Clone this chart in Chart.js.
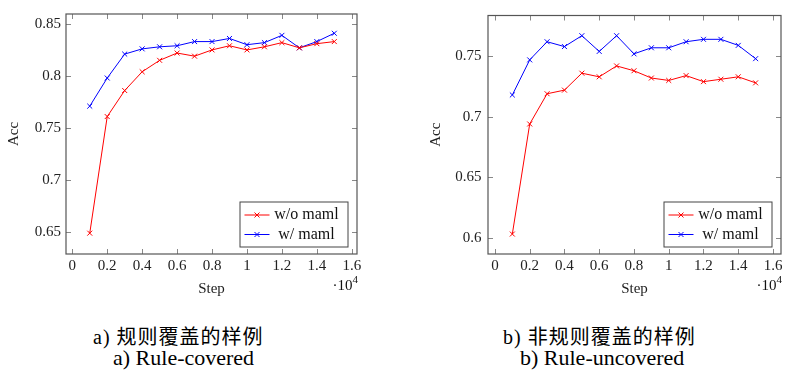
<!DOCTYPE html>
<html>
<head>
<meta charset="utf-8">
<script src="https://cdn.jsdelivr.net/npm/chart.js@4"></script>
<style>
  body { margin:0; background:#fff; width:807px; height:378px; position:relative; overflow:hidden; }
  canvas { position:absolute; top:0; }
  #leftChart { left:0; }
  #rightChart { left:400px; }
  .cap { position:absolute; white-space:nowrap; color:#000; font-family:"Liberation Serif","DejaVu Serif","Noto Sans CJK SC",serif; line-height:1; }
  .zh { font-size:20px; letter-spacing:1px; }
  .en { font-size:22px; }
</style>
</head>
<body>
<canvas id="leftChart" width="400" height="300"></canvas>
<canvas id="rightChart" width="407" height="300"></canvas>

<div class="cap zh" style="left:93px; top:327px;">a) 规则覆盖的样例</div>
<div class="cap en" style="left:113px; top:347px;">a) Rule-covered</div>
<div class="cap zh" style="left:503px; top:327px;">b) 非规则覆盖的样例</div>
<div class="cap en" style="left:520px; top:347px;">b) Rule-uncovered</div>

<script>
// data
const steps = [1000,2000,3000,4000,5000,6000,7000,8000,9000,10000,11000,12000,13000,14000,15000];
const coveredNoMaml = [0.649,0.761,0.786,0.804,0.815,0.822,0.819,0.825,0.829,0.825,0.828,0.832,0.827,0.831,0.833];
const coveredMaml   = [0.771,0.798,0.821,0.826,0.828,0.829,0.833,0.833,0.836,0.830,0.832,0.839,0.827,0.833,0.841];
const uncoveredNoMaml = [0.603,0.694,0.719,0.722,0.736,0.733,0.742,0.738,0.732,0.730,0.734,0.729,0.731,0.733,0.728];
const uncoveredMaml   = [0.718,0.747,0.762,0.758,0.767,0.754,0.767,0.752,0.757,0.757,0.762,0.764,0.764,0.759,0.748];
const xTicks = [0,2000,4000,6000,8000,10000,12000,14000,16000];
const yTicksCovered = [0.65,0.7,0.75,0.8,0.85];
const yTicksUncovered = [0.6,0.65,0.7,0.75];
const seriesNames = ["w/o maml","w/ maml"];
const RED = "rgb(255,0,0)";
const BLUE = "rgb(0,0,255)";
const FONT = "'Liberation Serif', 'DejaVu Serif', serif";

// frame, inward ticks, legend box and the ·10^4 note (pgfplots look)
const pgfLook = {
  id: "pgfLook",
  afterDraw(chart) {
    const c = chart.ctx, a = chart.chartArea;
    const xs = chart.scales.x, ys = chart.scales.y;
    c.save();
    c.strokeStyle = "#888";
    c.lineWidth = 1;
    c.beginPath();
    xs.ticks.forEach(t => {
      const px = Math.round(xs.getPixelForValue(t.value)) + 0.5;
      c.moveTo(px, a.bottom); c.lineTo(px, a.bottom - 5);
      c.moveTo(px, a.top); c.lineTo(px, a.top + 5);
    });
    ys.ticks.forEach(t => {
      const py = Math.round(ys.getPixelForValue(t.value)) + 0.5;
      c.moveTo(a.left, py); c.lineTo(a.left + 5, py);
      c.moveTo(a.right, py); c.lineTo(a.right - 5, py);
    });
    c.stroke();
    c.strokeStyle = "#555";
    c.lineWidth = 1.2;
    c.strokeRect(a.left, a.top, a.right - a.left, a.bottom - a.top);

    // legend
    const bw = 108, bh = 45;
    const bx = a.right - 9.5 - bw, by = a.bottom - 7.5 - bh;
    c.fillStyle = "#fff";
    c.fillRect(bx, by, bw, bh);
    c.strokeStyle = "#444";
    c.lineWidth = 1;
    c.strokeRect(bx + 0.5, by + 0.5, bw, bh);
    const cols = [RED, BLUE];
    seriesNames.forEach((name, i) => {
      const ry = by + 13.5 + i * 19.5;
      c.strokeStyle = cols[i];
      c.lineWidth = 1;
      c.beginPath();
      c.moveTo(bx + 5, ry); c.lineTo(bx + 30, ry);
      const mx = bx + 17.5, r = 2.5;
      c.moveTo(mx - r, ry - r); c.lineTo(mx + r, ry + r);
      c.moveTo(mx - r, ry + r); c.lineTo(mx + r, ry - r);
      c.stroke();
      c.fillStyle = "#111";
      c.font = "16px " + FONT;
      c.textAlign = "center";
      c.textBaseline = "middle";
      c.fillText(name, bx + 67, ry);
    });

    // ·10^4
    c.fillStyle = "#111";
    c.textBaseline = "alphabetic";
    c.textAlign = "right";
    c.font = "11px " + FONT;
    const w4 = c.measureText("4").width;
    c.fillText("4", a.right + 1, a.bottom + 29);
    c.font = "15px " + FONT;
    c.fillText("\u00b710", a.right + 1 - w4, a.bottom + 36);
    c.restore();
  }
};

function makeChart(id, noMaml, maml, yTicks, cfg) {
  return new Chart(document.getElementById(id), {
    type: "line",
    data: {
      datasets: [
        { label: seriesNames[0], data: steps.map((s, i) => ({x: s, y: noMaml[i]})),
          borderColor: RED, backgroundColor: RED, borderWidth: 1,
          pointStyle: "crossRot", pointRadius: 3.5, pointBorderWidth: 1, tension: 0 },
        { label: seriesNames[1], data: steps.map((s, i) => ({x: s, y: maml[i]})),
          borderColor: BLUE, backgroundColor: BLUE, borderWidth: 1,
          pointStyle: "crossRot", pointRadius: 3.5, pointBorderWidth: 1, tension: 0 }
      ]
    },
    options: {
      responsive: false,
      animation: false,
      devicePixelRatio: 1,
      layout: { padding: { left: 0, right: cfg.padRight, top: cfg.padTop, bottom: 0 } },
      plugins: { legend: { display: false }, tooltip: { enabled: false } },
      scales: {
        x: {
          type: "linear",
          min: cfg.xMin, max: cfg.xMax,
          afterBuildTicks: s => { s.ticks = xTicks.map(v => ({value: v})); },
          afterFit: s => { s.height = 46; },
          grid: { display: false, drawTicks: false },
          border: { display: false },
          ticks: {
            padding: 3, color: "#222", font: { family: FONT, size: 15 },
            callback: v => String(+(v / 1e4).toFixed(1))
          },
          title: { display: true, text: "Step", color: "#222",
                   font: { family: FONT, size: 15 }, padding: { top: 0, bottom: 2 } }
        },
        y: {
          min: cfg.yMin, max: cfg.yMax,
          afterBuildTicks: s => { s.ticks = yTicks.map(v => ({value: v})); },
          afterFit: s => { s.width = cfg.yWidth; },
          grid: { display: false, drawTicks: false },
          border: { display: false },
          ticks: {
            padding: cfg.yPad, color: "#222", font: { family: FONT, size: 15 },
            callback: v => String(+v.toFixed(2))
          },
          title: { display: true, text: "Acc", color: "#222",
                   font: { family: FONT, size: 15 }, padding: { top: cfg.titlePad, bottom: 0 } }
        }
      }
    },
    plugins: [pgfLook]
  });
}

makeChart("leftChart", coveredNoMaml, coveredMaml, yTicksCovered,
  { xMin: -360, xMax: 16300, yMin: 0.629, yMax: 0.8595, yWidth: 66, yPad: 5, titlePad: 5, padRight: 43, padTop: 12 });
makeChart("rightChart", uncoveredNoMaml, uncoveredMaml, yTicksUncovered,
  { xMin: -400, xMax: 16460, yMin: 0.5865, yMax: 0.7837, yWidth: 88, yPad: 6.5, titlePad: 27, padRight: 26, padTop: 10 });
</script>
</body>
</html>
